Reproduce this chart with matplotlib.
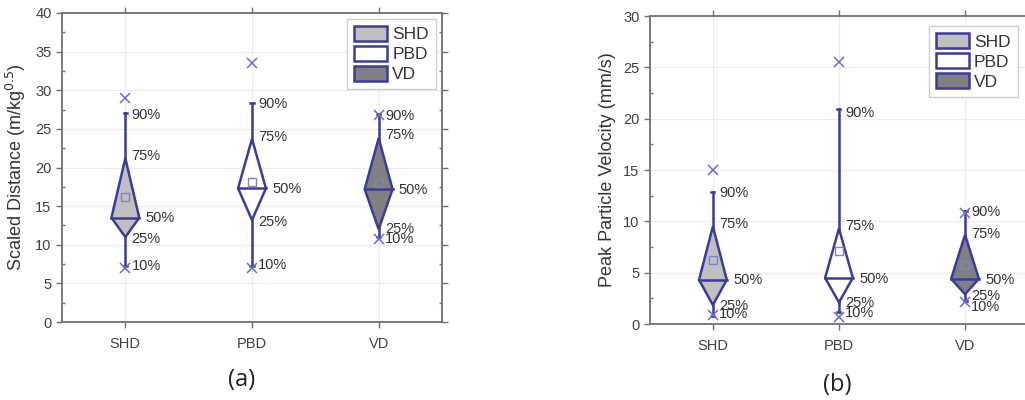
import matplotlib
matplotlib.use("Agg")
import matplotlib.pyplot as plt
from matplotlib.patches import Patch
from matplotlib.ticker import MultipleLocator

# ---------------- data ----------------
categories = ["SHD", "PBD", "VD"]

# Panel (a): Scaled distance
sd_p10 = [7.2, 7.2, 11.0]
sd_p25 = [11.0, 13.2, 12.0]
sd_p50 = [13.5, 17.3, 17.2]
sd_p75 = [21.2, 23.7, 23.8]
sd_p90 = [27.0, 28.3, 26.9]
sd_mean = [16.2, 18.1, 18.0]
sd_max = [29.0, 33.5, 26.8]
sd_min = [7.0, 7.0, 10.8]
sd_lab_y = {"90%": [26.8, 28.2, 26.7], "75%": [21.5, 24.0, 24.2],
            "50%": [13.4, 17.2, 17.1], "25%": [10.7, 13.0, 12.0],
            "10%": [7.2, 7.4, 10.7]}

# Panel (b): Peak particle velocity
ppv_p10 = [0.8, 1.2, 2.2]
ppv_p25 = [1.85, 2.1, 2.9]
ppv_p50 = [4.3, 4.5, 4.4]
ppv_p75 = [9.5, 9.3, 8.7]
ppv_p90 = [12.9, 20.9, 11.0]
ppv_mean = [6.2, 7.1, 5.7]
ppv_max = [15.0, 25.5, 10.8]
ppv_min = [0.9, 0.7, 2.1]
ppv_lab_y = {"90%": [12.8, 20.6, 10.9], "75%": [9.7, 9.5, 8.8],
             "50%": [4.3, 4.4, 4.3], "25%": [1.75, 2.0, 2.7],
             "10%": [1.0, 1.1, 1.7]}

fills = ["#c0c0c0", "#ffffff", "#808080"]
edge = "#3b3b9e"
xcol = "#6a6ad0"
txtcol = "#333333"
axcol = "#707070"

plt.rcParams["font.family"] = ["Liberation Sans", "DejaVu Sans"]

fig = plt.figure(figsize=(10.25, 4.0), dpi=100)
axA = fig.add_axes([0.0605, 0.195, 0.3707, 0.7725])
axB = fig.add_axes([0.634, 0.19, 0.369, 0.77])


def draw(ax, p10, p25, p50, p75, p90, mean, mx, mn, laby, ymax, ylabel, leg_pad):
    xs = list(range(1, len(categories) + 1))
    hw = 0.11
    for i, x in enumerate(xs):
        ax.plot([x, x], [p10[i], p90[i]], color=edge, lw=1.8, zorder=3)
        ax.plot([x - 0.012, x + 0.012], [p90[i], p90[i]], color=edge, lw=1.8, zorder=3)
        ax.plot([x - 0.012, x + 0.012], [p10[i], p10[i]], color=edge, lw=1.8, zorder=3)
        ax.fill([x, x + hw, x, x - hw], [p75[i], p50[i], p25[i], p50[i]],
                facecolor=fills[i], edgecolor=edge, lw=1.8, zorder=4)
        ax.plot([x - hw, x + hw], [p50[i], p50[i]], color=edge, lw=1.8, zorder=5)
        ax.plot([x], [mean[i]], marker="s", ms=6, mfc="none", mec="#8080d0",
                mew=1.0, zorder=6)
        ax.plot([x, x], [mx[i], mn[i]], ls="none", marker="x", ms=7, color=xcol,
                mew=1.1, zorder=6)
        for lab, ys in laby.items():
            dx = 0.16 if lab == "50%" else 0.05
            ax.text(x + dx, ys[i], lab, fontsize=10.5, color=txtcol,
                    ha="left", va="center", zorder=7)
    ax.set_xlim(0.5, 3.5)
    ax.set_ylim(0, ymax)
    ax.set_xticks(xs)
    ax.set_xticklabels(categories)
    ax.yaxis.set_major_locator(MultipleLocator(5))
    ax.yaxis.set_minor_locator(MultipleLocator(2.5))
    ax.grid(True, which="major", color="#ececec", lw=0.8)
    ax.set_axisbelow(True)
    for s in ax.spines.values():
        s.set_color(axcol)
        s.set_linewidth(1.3)
    ax.tick_params(axis="both", which="major", labelsize=10.5, colors=axcol,
                   labelcolor="#404040", length=4, width=1, right=True, top=True)
    ax.tick_params(axis="x", which="major", pad=7)
    ax.tick_params(axis="y", which="minor", length=2.5, width=1, colors=axcol,
                   right=True, direction="in")
    ax.set_ylabel(ylabel, fontsize=13, color="#333333", labelpad=5)
    handles = [Patch(facecolor=fills[i], edgecolor=edge, lw=1.8, label=c)
               for i, c in enumerate(categories)]
    leg = ax.legend(handles=handles, loc="upper right", fontsize=12.5,
                    fancybox=False, framealpha=1, edgecolor="#cfcfcf",
                    borderaxespad=leg_pad, handlelength=1.9, handleheight=0.95,
                    handletextpad=0.3, labelspacing=0.2, borderpad=0.4)
    leg.get_frame().set_linewidth(1.0)
    for t in leg.get_texts():
        t.set_color("#333333")


draw(axA, sd_p10, sd_p25, sd_p50, sd_p75, sd_p90, sd_mean, sd_max, sd_min,
     sd_lab_y, 40, "Scaled Distance (m/kg$^{0.5}$)", 0.35)
draw(axB, ppv_p10, ppv_p25, ppv_p50, ppv_p75, ppv_p90, ppv_mean, ppv_max, ppv_min,
     ppv_lab_y, 30, "Peak Particle Velocity (mm/s)", 0.6)

fig.text(242 / 1025, 1 - 380 / 400, "(a)", fontsize=17, family="Open Sans",
         ha="center", va="center", color="#222222")
fig.text(837 / 1025, 1 - 385 / 400, "(b)", fontsize=17, family="Open Sans",
         ha="center", va="center", color="#222222")

fig.savefig("out.png", dpi=100)
